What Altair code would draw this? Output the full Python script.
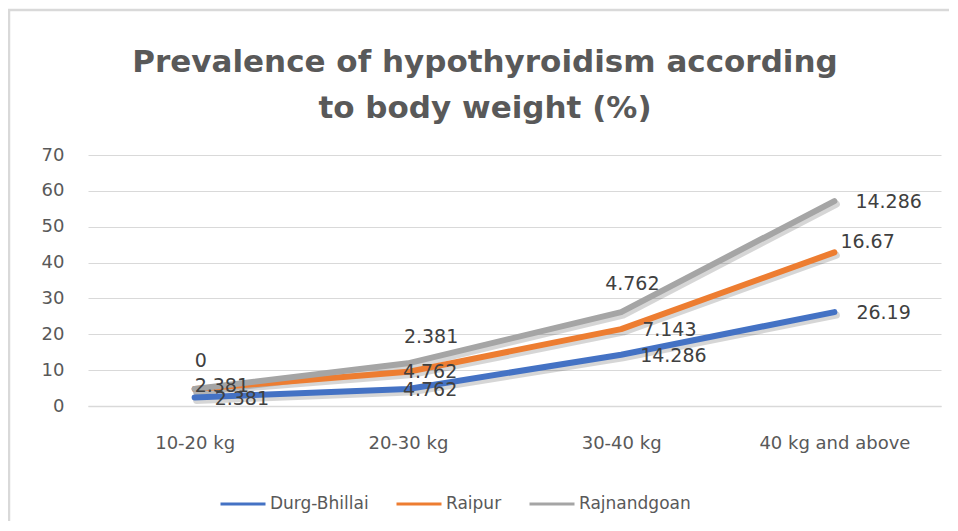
import altair as alt
import pandas as pd

categories = ["10-20 kg", "20-30 kg", "30-40 kg", "40 kg and above"]
series_names = ["Durg-Bhillai", "Raipur", "Rajnandgoan"]
durg_bhillai = [2.381, 4.762, 14.286, 26.19]
raipur = [2.381, 4.762, 7.143, 16.67]
rajnandgoan = [0, 2.381, 4.762, 14.286]
colors = ["#4472C4", "#ED7D31", "#A5A5A5"]
y_ticks = [0, 10, 20, 30, 40, 50, 60, 70]
title_lines = ["Prevalence of hypothyroidism according", "to body weight (%)"]

# label nudges in pixels (Excel-style data-label placement)
label_dx = {"Durg-Bhillai": [20, -5, 19, 22],
            "Raipur": [0, -5, 21, 6],
            "Rajnandgoan": [0, -4, -16, 21]}
label_dy = {"Durg-Bhillai": [2, 1, 1, 1],
            "Raipur": [-3, 0, 1, -10],
            "Rajnandgoan": [-28, -26, -28, 1]}

values = {"Durg-Bhillai": durg_bhillai, "Raipur": raipur, "Rajnandgoan": rajnandgoan}
rows = []
cum = [0.0] * len(categories)
for si, s in enumerate(series_names):
    for ci, c in enumerate(categories):
        cum[ci] += values[s][ci]
        rows.append({"category": c, "series": s, "order": si,
                     "value": values[s][ci], "stacked": cum[ci],
                     "label": f"{values[s][ci]:g}",
                     "dx": label_dx[s][ci], "dy": label_dy[s][ci]})
df = pd.DataFrame(rows)

W, H = 853, 251
YMAX = 70
FONT = "DejaVu Sans"

x_enc = alt.X("category:N", sort=categories, scale=alt.Scale(type="point", padding=0.5),
              axis=alt.Axis(title=None, labelAngle=0, labelFont=FONT, labelFontSize=18,
                            labelColor="#595959", labelPadding=28, ticks=False,
                            domain=True, domainColor="#D9D9D9", domainWidth=1.5, grid=False))
y_scale = alt.Scale(domain=[0, YMAX], nice=False)
y_axis = alt.Axis(title=None, values=y_ticks, labelFont=FONT, labelFontSize=18,
                  labelColor="#595959", labelPadding=24, ticks=False, domain=False,
                  labelOverlap=False,
                  grid=True, gridColor="#D9D9D9", gridWidth=1.2)
y_enc = alt.Y("stacked:Q", scale=y_scale, axis=y_axis)
color_enc = alt.Color("series:N", sort=series_names,
                      scale=alt.Scale(domain=series_names, range=colors),
                      legend=alt.Legend(title=None, orient="none", direction="horizontal",
                                        legendX=131, legendY=325, symbolType="stroke",
                                        symbolSize=2025, symbolStrokeWidth=3,
                                        labelFont=FONT, labelFontSize=17, labelColor="#595959",
                                        labelOffset=3, columnPadding=21))

border = alt.Chart(pd.DataFrame({"k": [0]})).mark_rect(
    fill="transparent", stroke="#D9D9D9", strokeWidth=2.5
).encode(x=alt.value(-79), x2=alt.value(900), y=alt.value(-145), y2=alt.value(400))

title = alt.Chart(pd.DataFrame({"k": [0]})).mark_text(
    text=title_lines, font=FONT, fontSize=31, fontWeight="bold", color="#595959",
    align="center", baseline="alphabetic", lineHeight=46
).encode(x=alt.value(397), y=alt.value(-83))

shadow = alt.Chart(df).mark_line(strokeWidth=7, strokeCap="round", strokeJoin="round",
                                 color="#000000", opacity=0.16).encode(
    x=x_enc, y=y_enc, detail="series:N", order="order:Q",
    xOffset=alt.value(2), yOffset=alt.value(3))

lines = alt.Chart(df).mark_line(strokeWidth=6, strokeCap="round", strokeJoin="round").encode(
    x=x_enc, y=y_enc, color=color_enc, order=alt.Order("order:Q"))

labels = alt.Chart(df).transform_calculate(
    label_y=f"datum.stacked - datum.dy * {YMAX} / {H}"
).mark_text(align="left", baseline="middle", font=FONT, fontSize=19,
            color="#404040").encode(
    x=x_enc, y=alt.Y("label_y:Q", scale=y_scale, axis=y_axis), text="label:N",
    xOffset=alt.XOffset("dx:Q", scale=None))

chart = alt.layer(border, title, shadow, lines, labels).properties(
    width=W, height=H,
    padding={"left": 80, "top": 147, "right": 8, "bottom": 115},
    autosize=alt.AutoSizeParams(type="none")
).configure(background="white", view=alt.ViewConfig(stroke="transparent", strokeWidth=0))

chart.save("out.html", embed_options={"renderer": "svg", "actions": False})
